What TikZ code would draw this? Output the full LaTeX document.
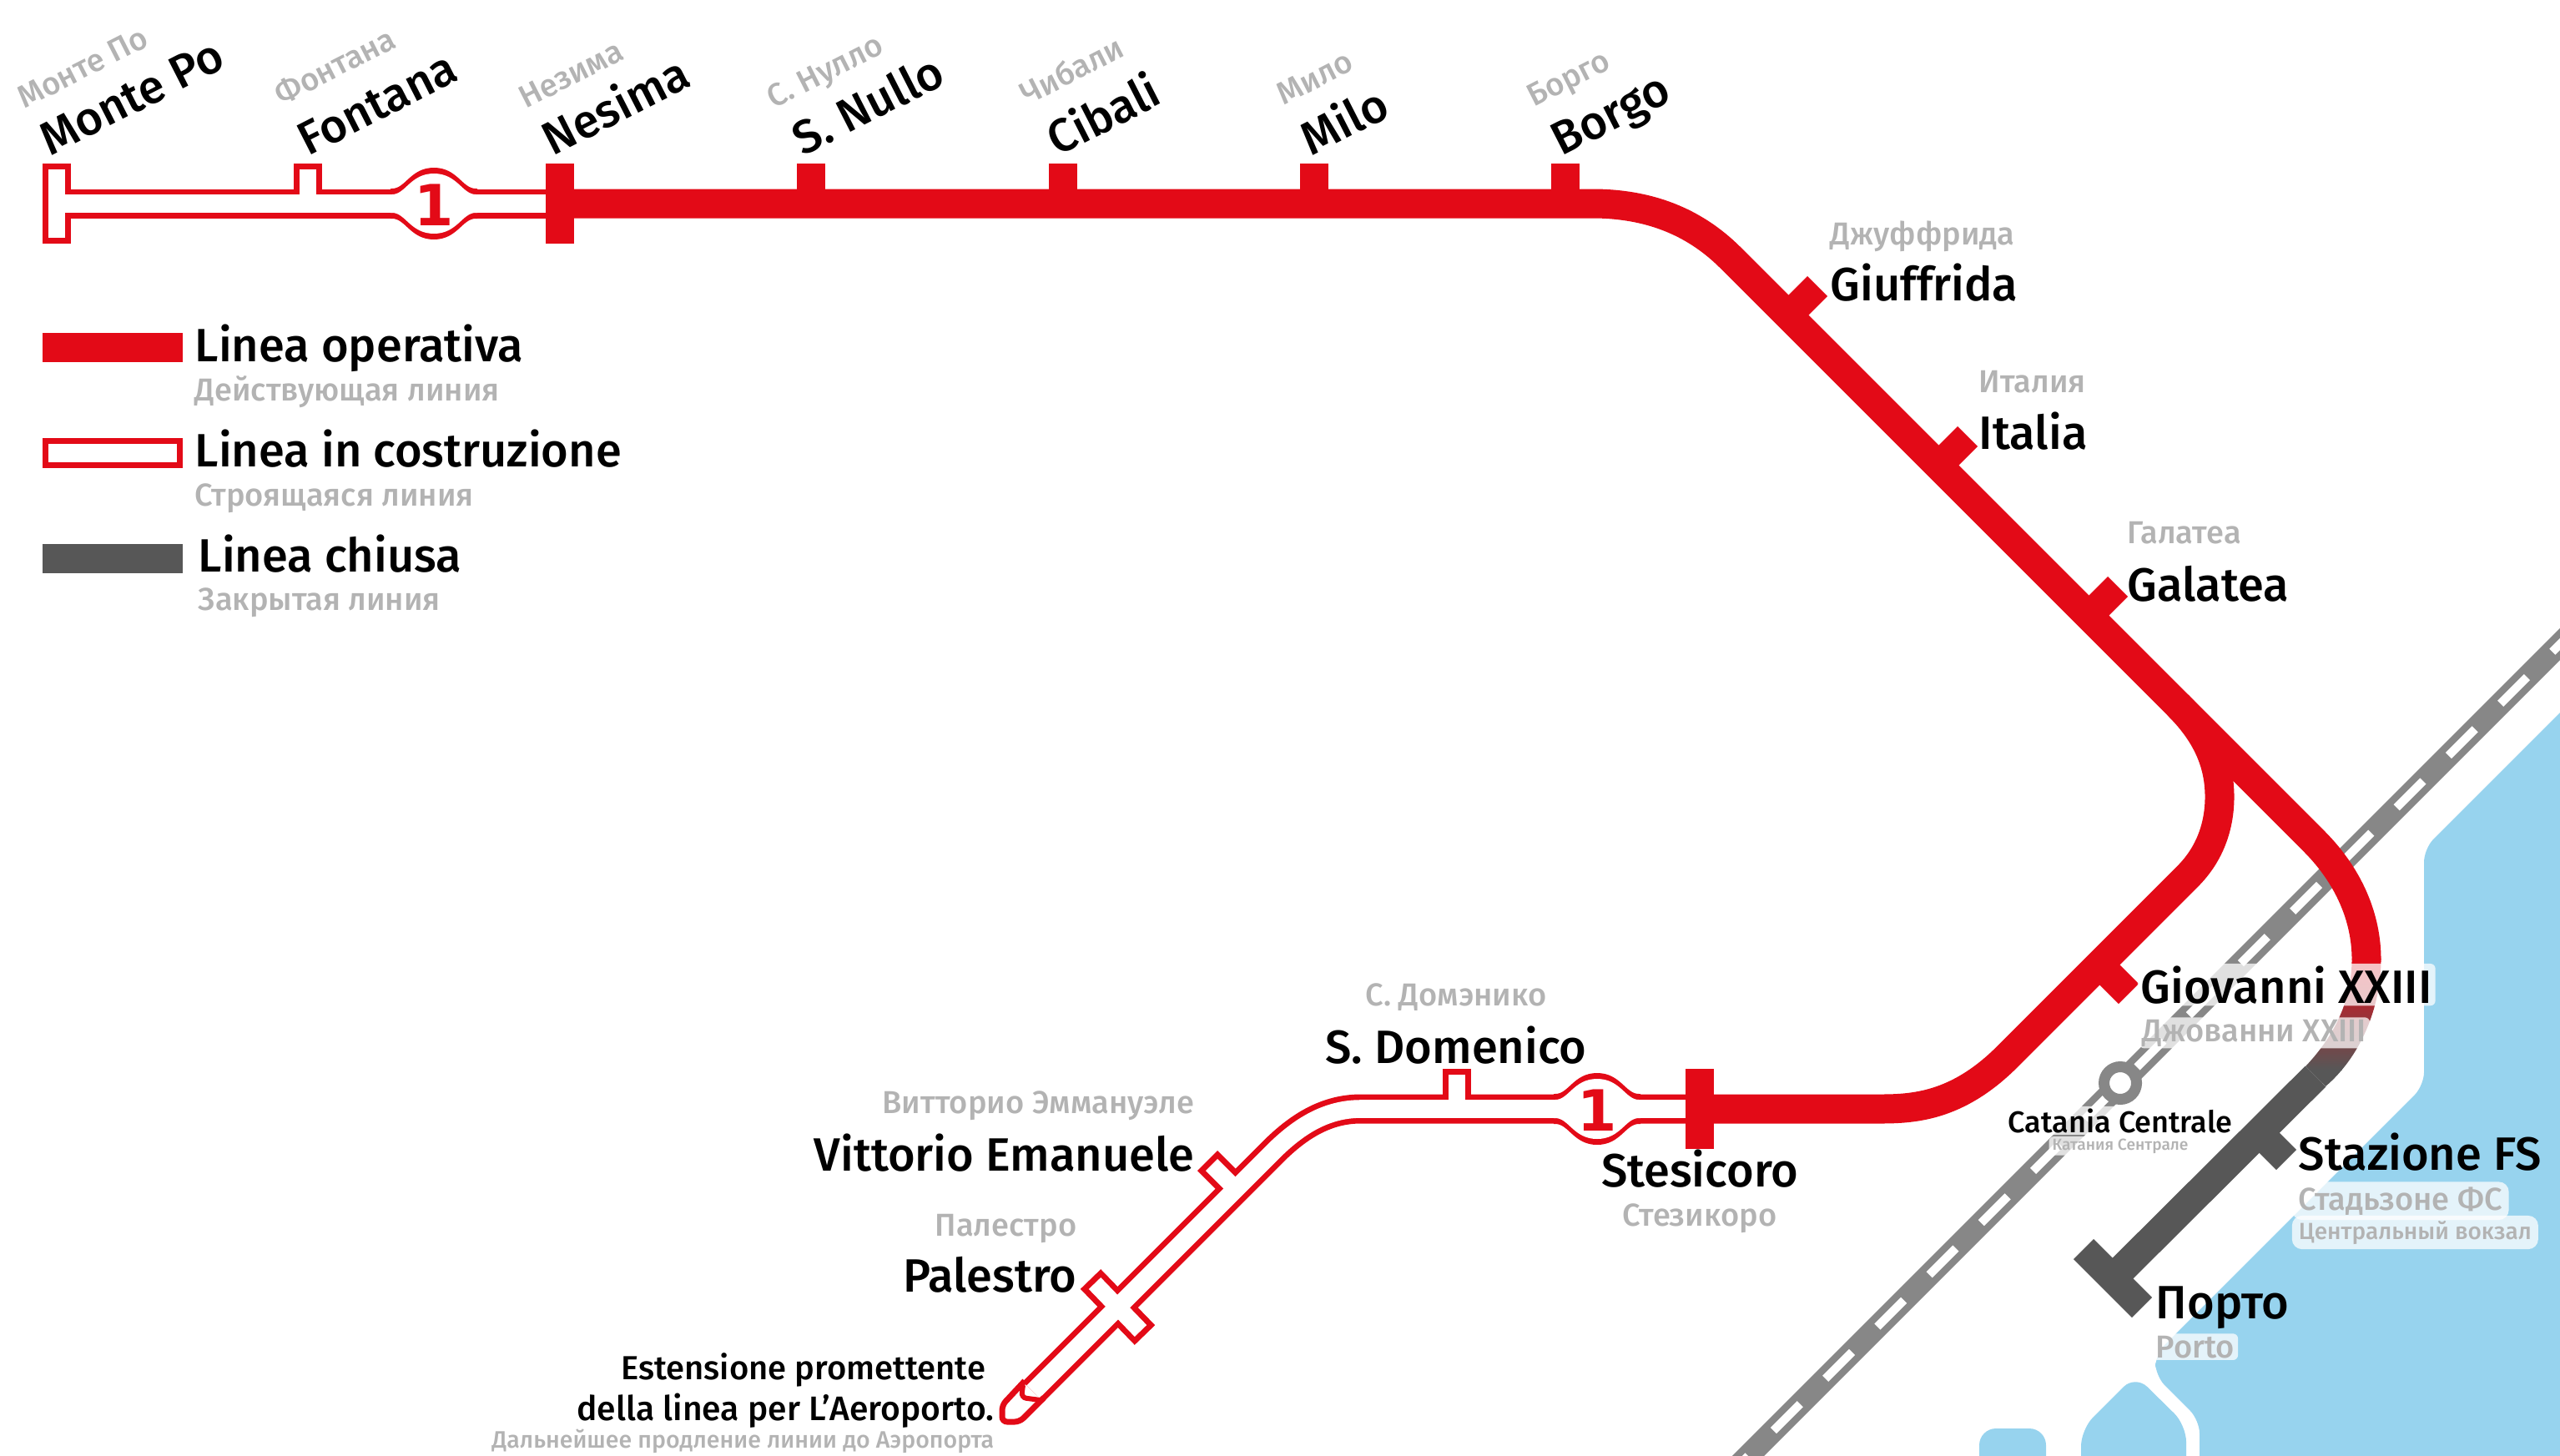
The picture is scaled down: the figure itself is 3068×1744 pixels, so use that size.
\documentclass[tikz,border=0pt]{standalone}
\usepackage{fontspec}
\setmainfont{Fira Sans}[UprightFont=* Medium]
\newfontfamily\bubblefont{DejaVu Sans}[Scale=1.0]
\usetikzlibrary{positioning}

\definecolor{metrored}{HTML}{E30A17}
\definecolor{closedgrey}{HTML}{575757}
\definecolor{railgrey}{HTML}{878787}
\definecolor{seablue}{HTML}{97D3EE}
\definecolor{subgrey}{HTML}{B3B3B3}

\tikzset{
  oper/.style={line width=8.75pt,color=metrored},
  closedline/.style={line width=8.75pt,color=closedgrey},
  buildline/.style={line width=8.75pt,color=metrored},
  buildfill/.style={line width=5.4pt,color=white},
  stick/.style={line width=8.5pt,color=metrored},
  sfill/.style={line width=5pt,color=white},
  gtick/.style={line width=8.5pt,color=closedgrey},
  stname/.style={inner sep=0pt,font=\fontsize{14}{14}\selectfont},
  stsub/.style={inner sep=0pt,text=subgrey,font=\fontsize{9.5}{10}\selectfont},
  halo/.style={fill=white,fill opacity=0.75,text opacity=1,rounded corners=1.5pt,inner xsep=1pt,inner ysep=0.6pt},
  seahalo/.style={halo,rounded corners=3pt,inner xsep=2pt,inner ysep=1.5pt},
  numone/.style={text=metrored,inner sep=0pt,font=\bubblefont\bfseries\fontsize{17}{17}\selectfont},
}

% neck and bulge of the line round the number
\newcommand{\bubbleshape}[4]{%
  \fill[#1] ({#2-52},{#3-#4}) -- ({#2-50},{#3-#4})
    .. controls ({#2-34},{#3-#4}) and ({#2-28},{#3-#4-25}) .. ({#2},{#3-#4-25})
    .. controls ({#2+28},{#3-#4-25}) and ({#2+34},{#3-#4}) .. ({#2+50},{#3-#4}) -- ({#2+52},{#3-#4})
    -- ({#2+52},{#3+#4}) -- ({#2+50},{#3+#4})
    .. controls ({#2+34},{#3+#4}) and ({#2+28},{#3+#4+25}) .. ({#2},{#3+#4+25})
    .. controls ({#2-28},{#3+#4+25}) and ({#2-34},{#3+#4}) .. ({#2-50},{#3+#4}) -- ({#2-52},{#3+#4}) -- cycle;
}

\begin{document}
\begin{tikzpicture}[x=0.25pt,y=-0.25pt]
    \useasboundingbox (0,0) rectangle (3068,1744);
    \clip (0,0) rectangle (3068,1744);

    % Sea
    \fill[seablue,rounded corners=4pt] (3100,822) -- (2905,1017) -- (2905,1301) -- (2583,1623)
        -- (2583,1649) -- (2636,1702) -- (2636,1770) -- (3100,1770) -- cycle;
    \fill[seablue,rounded corners=5pt] (2494,1770) -- (2494,1713) -- (2559,1648) -- (2620,1708) -- (2620,1770) -- cycle;
    \fill[seablue,rounded corners=5pt] (2372,1770) -- (2372,1712) -- (2452,1712) -- (2452,1770) -- cycle;

    % Railway
    \coordinate (raila) at (2001,1839);
    \coordinate (railb) at (3101,739);
    \draw[railgrey,line width=6.75pt] (raila) -- (railb);
    \draw[white,line width=2.5pt,dash pattern=on 11.25pt off 10.75pt] (raila) -- (railb);
    \node (catania) [circle,draw=railgrey,fill=white,line width=3.25pt,minimum size=9.75pt,inner sep=0pt] at (2541,1298) {};

    % Coordinates of the stations on the line
    \coordinate (stmonte) at (68,244);
    \coordinate (stfontana) at (369,244);
    \coordinate (stnesima) at (671,244);
    \coordinate (stgiuffrida) at (2143,378);
    \coordinate (stitalia) at (2323,558);
    \coordinate (stgalatea) at (2503,738);
    \coordinate (stgiovanni) at (2516,1156);
    \coordinate (ststesicoro) at (2037,1329);
    \coordinate (stdomenico) at (1746,1329);
    \coordinate (stvittorio) at (1481,1425);
    \coordinate (stpalestro) at (1340,1566);
    \coordinate (sttip) at (1238,1668);
    \coordinate (ststazione) at (2707,1357);
    \coordinate (stporto) at (2532,1532);

    % Line in construction
    \draw[buildline] (stmonte) -- (stnesima);
    \draw[stick] (68,196) -- (68,292);
    \draw[stick] (stfontana) -- ++(0,-48);
    \bubbleshape{metrored}{520}{244}{18}
    \draw[buildline] (ststesicoro) -- (1631,1329) .. controls (1590,1329) and (1557,1349) .. (1525,1381) -- (sttip);
    \draw[stick] (stdomenico) -- ++(0,-48);
    \bubbleshape{metrored}{1914}{1329}{18}
    \draw[stick] (stvittorio) -- ++(-34,-34);
    \draw[stick] (1307,1533) -- (1372,1600);

    \draw[sfill] (68,203) -- (68,285);
    \draw[buildfill] (58,244) -- (stnesima);
    \draw[sfill] (stfontana) -- ++(0,-41);
    \bubbleshape{white}{520}{244}{11}
    \draw[buildfill] (ststesicoro) -- (1631,1329) .. controls (1590,1329) and (1557,1349) .. (1525,1381) -- (sttip);
    \draw[sfill] (stdomenico) -- ++(0,-41);
    \bubbleshape{white}{1914}{1329}{11}
    \draw[sfill] (stvittorio) -- ++(-29,-29);
    \draw[sfill] (1312,1538) -- (1367,1595);
    \node (numa) [numone] at (520,246) {1};
    \node (numb) [numone] at (1914,1331) {1};

    % Tip of the extension
    \fill[white] (1226,1660) -- (1202,1685) -- (1202,1703) -- (1222,1703) -- (1248,1677) -- cycle;
    \draw[metrored,line width=1.75pt,rounded corners=1.5pt] (1228,1655) -- (1201,1684) -- (1201,1704) -- (1222,1704) -- (1251,1675);
    \draw[metrored,line width=1.5pt,rounded corners=1.5pt] (1226,1660) -- (1224,1675) -- (1247,1678);

    % Operative line
    \draw[oper] (stnesima) -- (1908,244) .. controls (1975,244) and (2030,265) .. (2074,309)
        -- (2610,845) .. controls (2645,880) and (2660,915) .. (2660,955)
        .. controls (2660,995) and (2645,1027) .. (2622,1050) -- (2402,1270)
        .. controls (2345,1325) and (2295,1329) .. (2254,1329) -- (ststesicoro);
    \draw[oper] (2610,845) -- (2773,1008) .. controls (2815,1050) and (2836,1100) .. (2836,1150);
    \draw[stick] (671,196) -- (671,292);
    \draw[stick] (ststesicoro) ++(0,-48) -- ++(0,96);
    \foreach \sid/\xpos in {snullo/972,cibali/1274,milo/1575,borgo/1876}
    {
      \coordinate (st\sid) at (\xpos,244);
      \draw[stick] (st\sid) -- ++(0,-48);
    };
    \draw[stick] (stgiuffrida) -- ++(35,-35);
    \draw[stick] (stitalia) -- ++(35,-35);
    \draw[stick] (stgalatea) -- ++(35,-35);
    \draw[stick] (stgiovanni) -- ++(35,35);

    % Red to grey
    \begin{scope}
      \clip (2853.5,1149) .. controls (2853.5,1210) and (2827,1268) .. (2787,1302)
          -- (2763,1278) .. controls (2797,1242) and (2818.5,1200) .. (2818.5,1149) -- cycle;
      \shade[top color=metrored,bottom color=closedgrey] (2700,1149) rectangle (2900,1282);
      \fill[closedgrey] (2700,1282) rectangle (2900,1310);
    \end{scope}

    % Closed line
    \draw[closedline] (2775,1290) -- (stporto);
    \draw[gtick] (ststazione) -- ++(33,33);
    \draw[gtick] (2497,1497) -- (2567,1567);

    % Names along the top
    \foreach \sid/\xa/\xb/\yb/\lname/\lsub in {%
      monte/60/29/131/Monte Po/Монте По,
      fontana/369/337/127/Fontana/Фонтана,
      nesima/662/630/131/Nesima/Незима,
      nullo/962/927/131/S. Nullo/С. Нулло,
      cibali/1267/1231/127/Cibali/Чибали,
      milo/1571/1538/127/Milo/Мило,
      borgo/1871/1838/129/Borgo/Борго}
    {
      \node (name\sid) [stname,anchor=base west,rotate=27] at (\xa,188) {\lname};
      \node (sub\sid) [stsub,anchor=base west,rotate=27] at (\xb,\yb) {\lsub};
    };

    % Names along the diagonal
    \node (namegiuffrida) [stname,anchor=base west] at (2193,360) {Giuffrida};
    \node (subgiuffrida) [stsub,anchor=base west] at (2193,293) {Джуффрида};
    \node (nameitalia) [stname,anchor=base west] at (2371,538) {Italia};
    \node (subitalia) [stsub,anchor=base west] at (2371,470) {Италия};
    \node (namegalatea) [stname,anchor=base west] at (2549,720) {Galatea};
    \node (subgalatea) [stsub,anchor=base west] at (2549,651) {Галатеа};

    % Names at the port
    \node (namegiovanni) [stname,halo,anchor=base west] at (2561,1202) {Giovanni XXIII};
    \node (subgiovanni) [stsub,halo,anchor=base west] at (2563,1248) {Джованни XXIII};
    \node (namecatania) [stname,halo,anchor=base,font=\fontsize{9}{10}\selectfont] at (2541,1357) {Catania Centrale};
    \node (subcatania) [stsub,halo,anchor=base,font=\fontsize{4.8}{6}\selectfont] at (2541,1378) {Катания Сентрале};
    \node (namestazione) [stname,anchor=base west] at (2754,1402) {Stazione FS};
    \node (substazione) [stsub,seahalo,anchor=base west] at (2746,1450) {Стадьзоне ФС};
    \node (subcentrale) [stsub,seahalo,anchor=base west,font=\fontsize{7}{8}\selectfont] at (2746,1485) {Центральный вокзал};
    \node (nameporto) [stname,anchor=base west] at (2583,1580) {Порто};
    \node (subporto) [stsub,halo,anchor=base west] at (2579,1627) {Porto};

    % Names on the lower branch
    \node (namestesicoro) [stname,anchor=base] at (2037,1422) {Stesicoro};
    \node (substesicoro) [stsub,anchor=base] at (2037,1469) {Стезикоро};
    \node (namedomenico) [stname,anchor=base] at (1745,1274) {S. Domenico};
    \node (subdomenico) [stsub,anchor=base] at (1745,1205) {С. Домэнико};
    \node (namevittorio) [stname,anchor=base east] at (1432,1403) {Vittorio Emanuele};
    \node (subvittorio) [stsub,anchor=base east] at (1432,1334) {Витторио Эммануэле};
    \node (namepalestro) [stname,anchor=base east] at (1291,1548) {Palestro};
    \node (subpalestro) [stsub,anchor=base east] at (1291,1481) {Палестро};
    \node (nameext) [stname,anchor=base east,font=\fontsize{10}{11}\selectfont] at (1182,1653) {Estensione promettente};
    \node (nameair) [stname,anchor=base east,font=\fontsize{10.2}{11}\selectfont] at (1192,1702) {della linea per L'Aeroporto.};
    \node (subext) [stsub,anchor=base east,font=\fontsize{7.13}{8}\selectfont] at (1192,1735) {Дальнейшее продление линии до Аэропорта};

    % Legend
    \coordinate (legaa) at (51,416);
    \coordinate (legab) at (219,416);
    \draw[oper] (legaa) -- (legab);
    \node (legopname) [stname,anchor=base west] at (233,433) {Linea operativa};
    \node (legopsub) [stsub,anchor=base west] at (233,480) {Действующая линия};
    \draw[metrored,line width=1.75pt] (54.5,528.5) rectangle (215.5,557.5);
    \node (legbuname) [stname,anchor=base west] at (233,559) {Linea in costruzione};
    \node (legbusub) [stsub,anchor=base west] at (233,606) {Строящаяся линия};
    \coordinate (legca) at (51,669);
    \coordinate (legcb) at (219,669);
    \draw[closedline] (legca) -- (legcb);
    \node (legclname) [stname,anchor=base west] at (237,685) {Linea chiusa};
    \node (legclsub) [stsub,anchor=base west] at (237,731) {Закрытая линия};

\end{tikzpicture}
\end{document}
